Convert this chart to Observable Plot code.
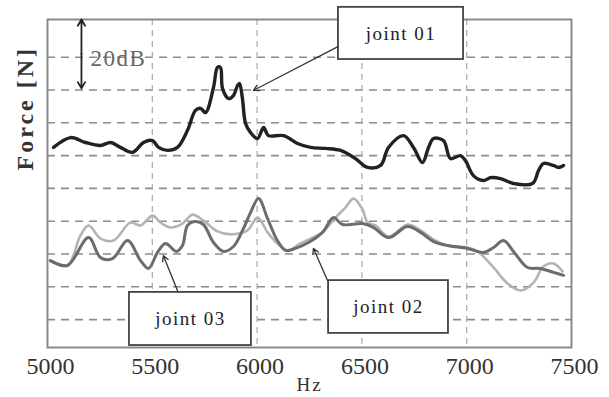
<!DOCTYPE html>
<html>
<head>
<meta charset="utf-8">
<script src="https://cdn.jsdelivr.net/npm/d3@7"></script>
<script src="https://cdn.jsdelivr.net/npm/@observablehq/plot@0.6"></script>
<style>
  html, body { margin: 0; padding: 0; background: #fff; }
  #chart svg { display: block; }
</style>
</head>
<body>
<div id="chart"></div>
<script>
// ---- data (frequency in Hz, force level in dB) ----
const freq01 = [5029,5110,5181,5253,5301,5348,5406,5458,5501,5530,5573,5620,5668,5706,5730,5754,5792,5811,5825,5835,5864,5887,5907,5916,5930,5945,5969,6002,6031,6054,6126,6193,6255,6326,6398,6469,6527,6589,6627,6699,6746,6789,6818,6842,6889,6923,6970,6994,7032,7080,7114,7161,7223,7314,7343,7366,7414,7438,7462];
const force01 = [61.0,64.0,62.5,61.6,62.5,61.0,59.5,62.5,63.1,61.0,60.1,61.0,66.2,72.3,72.9,71.6,79.3,85.4,85.4,79.0,75.9,76.8,79.9,80.5,75.9,68.3,65.5,63.7,67.1,64.6,64.6,62.2,61.0,60.7,60.1,57.6,54.9,55.5,61.0,64.6,61.0,56.4,61.0,63.7,63.1,57.6,58.5,57.0,52.4,50.9,51.8,51.5,50.0,50.0,54.0,56.1,55.5,54.9,55.5];

const freq02 = [5014,5095,5157,5196,5253,5315,5396,5444,5501,5539,5587,5644,5692,5744,5811,5873,5954,6002,6050,6097,6145,6207,6255,6312,6374,6422,6460,6503,6527,6565,6627,6718,6780,6842,6908,7004,7052,7128,7195,7257,7319,7366,7414,7457];
const force02 = [26.5,25.0,34.1,37.2,33.2,32.6,38.1,37.2,40.2,38.1,36.6,37.8,40.5,38.7,35.4,34.5,35.7,39.6,35.1,31.7,29.6,31.7,33.2,35.1,39.6,42.7,45.4,42.1,38.1,37.2,33.8,37.5,35.7,32.9,31.1,30.5,29.3,24.4,19.5,17.4,19.8,24.7,25.6,23.2];

const freq03 = [5014,5095,5196,5253,5310,5382,5444,5482,5525,5563,5615,5644,5668,5706,5744,5792,5840,5887,5935,5969,6007,6050,6097,6136,6183,6245,6312,6365,6407,6503,6555,6627,6718,6780,6842,6908,7004,7080,7128,7176,7223,7290,7352,7414,7462];
const force03 = [26.5,25.0,33.5,27.4,27.1,32.6,26.5,24.1,29.0,31.7,29.3,31.1,37.2,38.4,37.5,32.0,29.3,30.8,36.3,41.2,45.4,39.3,32.6,29.6,30.2,32.0,35.1,39.6,37.5,37.8,36.6,33.5,36.9,35.1,32.3,31.1,30.2,29.0,30.5,32.6,29.3,24.4,24.1,22.9,22.0];

const xTicks = [5000,5500,6000,6500,7000,7500];
const yGrid = [8.5,18.5,28.5,38.5,48.5,58.5,68.5,78.5,88.5];
const xLabel = "Hz";
const yLabel = "Force [N]";

// annotation boxes
const boxNames = ["joint 01","joint 02","joint 03"];
const boxX1 = [6388,6341,5391];
const boxX2 = [6985,6913,5973];
const boxY1 = [87.8,4.3,0.6];
const boxY2 = [103.7,20.4,16.8];
// arrows from boxes to curves
const arrowX1 = [6388,6336,5620];
const arrowY1 = [91.8,20.4,17.4];
const arrowX2 = [5983,6269,5553];
const arrowY2 = [78.4,30.2,28.0];
// 20 dB scale bar
const scaleText = "20dB";
const scaleX = 5162;
const scaleMid = 89.5;
const scaleEnds = [100,79];

const boxes = boxNames.map((name, i) => ({name, x1: boxX1[i], x2: boxX2[i], y1: boxY1[i], y2: boxY2[i]}));
const arrows = arrowX1.map((x1, i) => ({x1, y1: arrowY1[i], x2: arrowX2[i], y2: arrowY2[i]}));
const scaleArrows = scaleEnds.map(e => ({x1: scaleX, y1: scaleMid, x2: scaleX, y2: e}));

const serif = "'Liberation Serif', 'Times New Roman', serif";

const chart = Plot.plot({
  width: 609,
  height: 397,
  marginLeft: 47,
  marginRight: 38,
  marginTop: 19,
  marginBottom: 50,
  style: {fontFamily: serif, background: "#fff"},
  x: {domain: [5000, 7500], axis: null},
  y: {domain: [0, 100], axis: null},
  marks: [
    Plot.gridY(yGrid, {stroke: "#8c8c8c", strokeOpacity: 1, strokeWidth: 1.6, strokeDasharray: "8,6"}),
    Plot.gridX(xTicks.slice(1, -1), {stroke: "#a8a8a8", strokeOpacity: 1, strokeWidth: 1.2, strokeDasharray: "6,5"}),
    Plot.frame({stroke: "#858585", strokeWidth: 1.9}),
    Plot.axisX(xTicks, {tickSize: 0, tickPadding: 9, fontSize: 24, dx: 3, fill: "#333", label: null, tickFormat: d => String(d)}),
    Plot.text([yLabel], {frameAnchor: "left", dx: -22, dy: -13, rotate: -90, fontSize: 24, fontWeight: "bold", fill: "#333", lineAnchor: "middle"}),
    Plot.text([xLabel], {frameAnchor: "bottom", dy: 37, fontSize: 19, fill: "#333", lineAnchor: "middle"}),
    Plot.line(freq02.map((f, i) => i), {x: i => freq02[i], y: i => force02[i], stroke: "#b4b4b4", strokeWidth: 2.6, curve: "catmull-rom"}),
    Plot.line(freq03.map((f, i) => i), {x: i => freq03[i], y: i => force03[i], stroke: "#6c6c6c", strokeWidth: 3, curve: "catmull-rom"}),
    Plot.line(freq01.map((f, i) => i), {x: i => freq01[i], y: i => force01[i], stroke: "#222", strokeWidth: 3.4, curve: "catmull-rom"}),
    Plot.rect(boxes, {x1: "x1", x2: "x2", y1: "y1", y2: "y2", fill: "white", stroke: "#444", strokeWidth: 1.8}),
    Plot.text(boxes, {x: d => (d.x1 + d.x2) / 2, y: d => (d.y1 + d.y2) / 2, text: "name", fontSize: 19, fill: "#222", lineAnchor: "middle"}),
    Plot.arrow(arrows, {x1: "x1", y1: "y1", x2: "x2", y2: "y2", stroke: "#333", strokeWidth: 1.3, headLength: 7}),
    Plot.arrow(scaleArrows, {x1: "x1", y1: "y1", x2: "x2", y2: "y2", stroke: "#222", strokeWidth: 1.8, headLength: 6}),
    Plot.text([scaleText], {x: scaleX, y: 88.2, dx: 9, textAnchor: "start", fontSize: 23, fill: "#666", lineAnchor: "middle"})
  ]
});

// letter spacing tweaks to match the wide type of the original
d3.select(chart).selectAll("text").each(function() {
  const t = this.textContent;
  if (t === yLabel) this.setAttribute("letter-spacing", "3");
  else if (t === scaleText) this.setAttribute("letter-spacing", "1.5");
  else if (boxNames.includes(t)) this.setAttribute("letter-spacing", "1.5");
  else if (t === xLabel) this.setAttribute("letter-spacing", "2");
});

document.getElementById("chart").appendChild(chart);
</script>
</body>
</html>
